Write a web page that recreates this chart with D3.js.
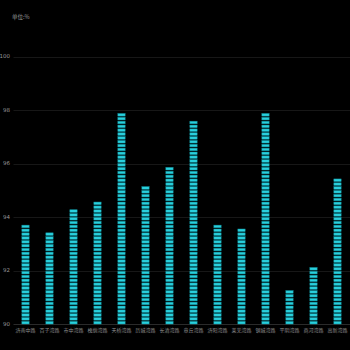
<!DOCTYPE html>
<html><head><meta charset="utf-8">
<script src="https://cdn.jsdelivr.net/npm/d3@7"></script>
<style>html,body{margin:0;padding:0;background:#000;}svg{display:block;}</style>
</head><body>
<script>
const categories = ["济南中路","百子湾路","市中湾路","槐荫湾路","天桥湾路","历城湾路","长清湾路","章丘湾路","济阳湾路","莱芜湾路","钢城湾路","平阴湾路","商河湾路","高新湾路"];
const values = [93.78, 93.5, 94.35, 94.65, 97.9, 95.18, 95.9, 97.6, 93.75, 93.65, 97.9, 91.25, 92.22, 95.48];
const yTicks = [90, 92, 94, 96, 98, 100];
const unitLabel = "单位:%";

const W = 350, H = 350;
const m = {left: 13.5, right: 0.5, top: 56.5, bottom: 26};
const svg = d3.select("body").append("svg").attr("width", W).attr("height", H)
  .style("background", "#000");

const x = d3.scaleBand().domain(categories).range([m.left, W - m.right]).padding(0);
const y = d3.scaleLinear().domain([90, 100]).range([H - m.bottom, m.top]);

// gridlines
svg.append("g").selectAll("line").data(yTicks).join("line")
  .attr("x1", m.left).attr("x2", W)
  .attr("y1", d => Math.round(y(d)) + 0.5).attr("y2", d => Math.round(y(d)) + 0.5)
  .attr("stroke", d => d === 90 ? "#2a2a2a" : "#171717").attr("stroke-width", 1.2);

// y tick labels
svg.append("g").selectAll("text").data(yTicks).join("text")
  .attr("x", 10).attr("y", d => y(d)).attr("dy", "0.35em")
  .attr("text-anchor", "end").attr("fill", "#999")
  .attr("font-family", "DejaVu Sans, sans-serif").attr("font-size", 5.5)
  .text(d => d);

// unit label
svg.append("text").attr("x", 12).attr("y", 19).attr("fill", "#999")
  .attr("font-family", "Noto Sans CJK SC, sans-serif").attr("font-size", 5.5)
  .text(unitLabel);

// x labels
svg.append("g").selectAll("text").data(categories).join("text")
  .attr("x", d => x(d) + x.bandwidth() / 2).attr("y", H - m.bottom + 8)
  .attr("text-anchor", "middle").attr("fill", "#8f8f8f")
  .attr("font-family", "Noto Sans CJK SC, sans-serif").attr("font-size", 5)
  .text(d => d);

// pictorial bars: repeated stripes
const barW = 7.3, stripeH = 2.6, period = 3.85;
const base = y(90);
categories.forEach((c, i) => {
  const top = y(values[i]);
  const cx = x(c) + x.bandwidth() / 2;
  const n = Math.max(1, Math.round((base - top) / period));
  const stripes = d3.range(n).map(k => base - (k + 1) * period + (period - stripeH));
  const g = svg.append("g");
  g.selectAll("rect").data(stripes).join("rect")
    .attr("x", cx - barW / 2).attr("y", d => d)
    .attr("width", barW).attr("height", stripeH)
    .attr("fill", "#29d0dd").attr("stroke", "#0f8f9c").attr("stroke-width", 0.5);
});
</script>
</body></html>
